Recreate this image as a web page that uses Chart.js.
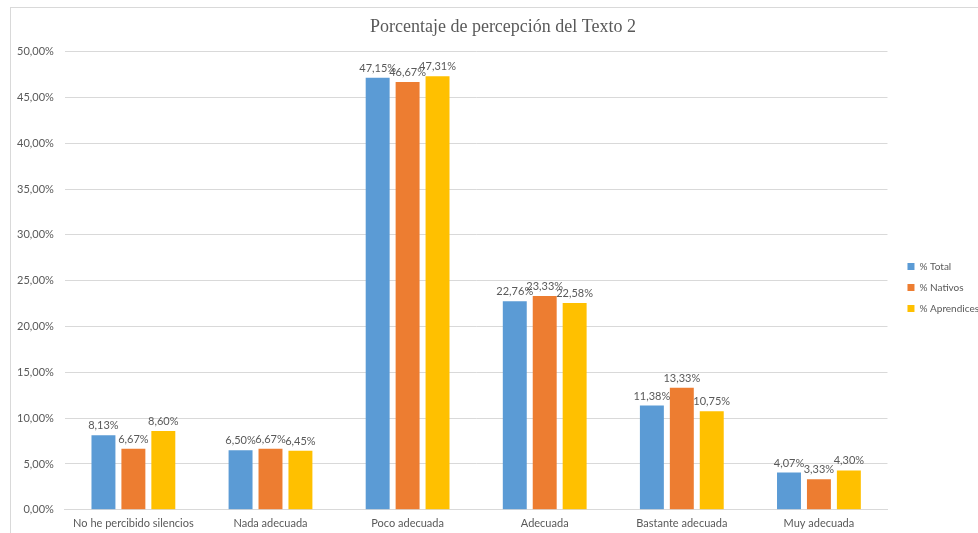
<html lang="es">
<head>
  <meta charset="UTF-8">
  <title>Porcentaje de percepción del Texto 2</title>
  <style>
    body { margin: 0; background: #fff; overflow: hidden; }
    .frame {
      position: absolute;
      left: 10px;
      top: 7px;
      width: 1000px;
      height: 600px;
      border: 1px solid #d9d9d9;
      box-sizing: border-box;
    }
    .chart-box {
      position: absolute;
      left: 0;
      top: 0;
      width: 978px;
      height: 533px;
    }
  </style>
</head>
<body>
  <div class="frame"></div>
  <div class="chart-box">
    <canvas id="chart1"></canvas>
  </div>

  <script src="https://cdn.jsdelivr.net/npm/chart.js@4/dist/chart.umd.min.js"></script>
  <script>
    // categorias y series (valores en %)
    const categorias = ["No he percibido silencios", "Nada adecuada", "Poco adecuada", "Adecuada", "Bastante adecuada", "Muy adecuada"];
    const total = [8.13, 6.50, 47.15, 22.76, 11.38, 4.07];
    const nativos = [6.67, 6.67, 46.67, 23.33, 13.33, 3.33];
    const aprendices = [8.60, 6.45, 47.31, 22.58, 10.75, 4.30];
    const ticksY = [0, 5, 10, 15, 20, 25, 30, 35, 40, 45, 50];

    const gris = "#595959";
    const fuente = "Lato, 'Liberation Sans', sans-serif";
    const fmt = v => v.toFixed(2).replace(".", ",") + "%";

    // etiquetas de datos encima de cada barra
    const etiquetas = {
      id: "etiquetas",
      afterDatasetsDraw(chart) {
        const ctx = chart.ctx;
        ctx.save();
        ctx.font = "11px " + fuente;
        ctx.fillStyle = gris;
        ctx.textAlign = "center";
        ctx.textBaseline = "bottom";
        chart.data.datasets.forEach((ds, i) => {
          chart.getDatasetMeta(i).data.forEach((bar, j) => {
            ctx.fillText(fmt(ds.data[j]), bar.x, bar.y - 4);
          });
        });
        ctx.restore();
      }
    };

    // mover leyenda y titulo un poco (como en Excel)
    const moverBloques = {
      id: "moverBloques",
      afterLayout(chart) {
        const lg = chart.legend;
        lg.left += 9; lg.right += 9;
        lg.top += 13; lg.bottom += 13;
        const tt = chart.titleBlock;
        tt.left += 10; tt.right += 10;
      }
    };

    new Chart(chart1, {
      type: "bar",
      data: {
        labels: categorias,
        datasets: [
          { label: "% Total", data: total, backgroundColor: "#5b9bd5" },
          { label: "% Nativos", data: nativos, backgroundColor: "#ed7d31" },
          { label: "% Aprendices", data: aprendices, backgroundColor: "#ffc000" },
        ],
      },
      options: {
        responsive: true,
        maintainAspectRatio: false,
        animation: false,
        layout: { padding: { left: 6, right: -2, top: 12, bottom: -4 } },
        datasets: {
          bar: { categoryPercentage: 0.655, barPercentage: 0.8 }
        },
        plugins: {
          title: {
            display: true,
            text: "Porcentaje de percepción del Texto 2",
            color: gris,
            font: { family: "'Liberation Serif', 'DejaVu Serif', serif", size: 18, weight: "normal" },
            padding: { top: 4, bottom: 14 },
          },
          legend: {
            position: "right",
            labels: {
              color: gris,
              boxWidth: 7,
              boxHeight: 7,
              padding: 11,
              font: { family: fuente, size: 10 },
            },
          },
          tooltip: { enabled: false },
        },
        scales: {
          x: {
            grid: { display: false, drawTicks: false },
            border: { color: "#d9d9d9" },
            ticks: { color: gris, padding: 7, font: { family: fuente, size: 11 } },
          },
          y: {
            min: 0,
            max: 50,
            afterBuildTicks: axis => { axis.ticks = ticksY.map(v => ({ value: v })); },
            grid: { color: "#d9d9d9", drawTicks: false },
            border: { display: false },
            ticks: {
              color: gris,
              padding: 11,
              font: { family: fuente, size: 11 },
              callback: v => fmt(v),
            },
          },
        },
      },
      plugins: [etiquetas, moverBloques],
    });
  </script>
</body>
</html>
